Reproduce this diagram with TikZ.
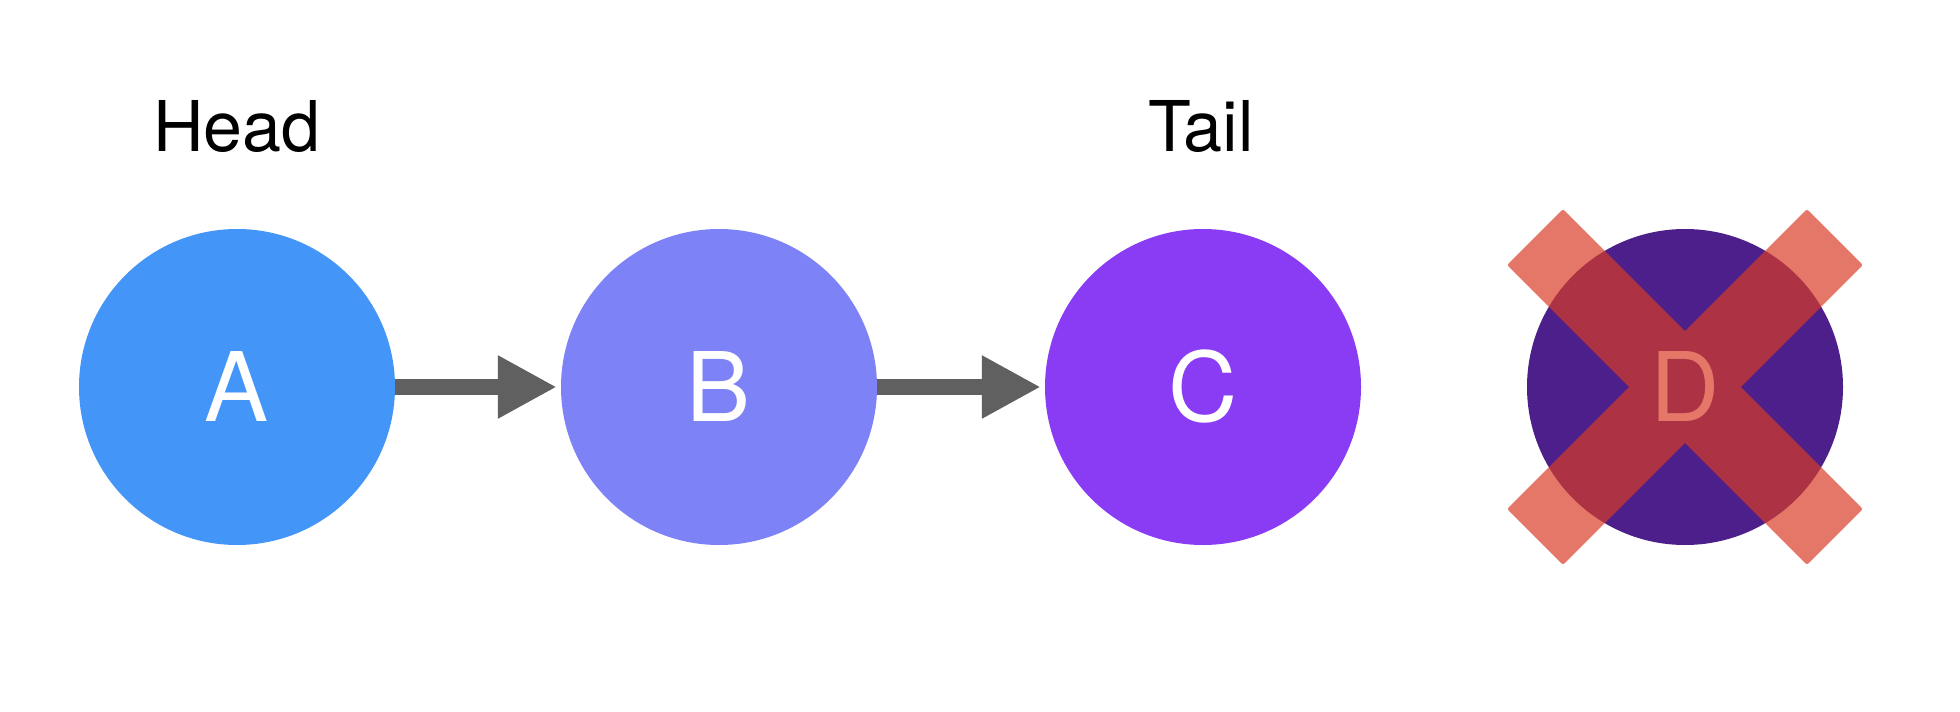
\documentclass[tikz,border=0pt]{standalone}
\usepackage{fontspec}
\setmainfont{TeX Gyre Heros}
\usetikzlibrary{arrows.meta}
\definecolor{cA}{HTML}{4495F8}
\definecolor{cB}{HTML}{7D82F6}
\definecolor{cC}{HTML}{8A3CF5}
\definecolor{cD}{HTML}{4C1F8A}
\definecolor{arrgray}{HTML}{606060}
\definecolor{xred}{HTML}{D93B24}
\tikzset{
  listnode/.style={circle, minimum size=316pt, inner sep=0pt, text=white, font=\fontsize{96}{100}\selectfont},
  lab/.style={anchor=base, inner sep=0pt, font=\fontsize{70}{74}\selectfont},
  arr/.style={draw=arrgray, line width=15.5pt, shorten >=4pt, -{Triangle[length=59pt, width=59pt]}},
  cross/.style={fill=xred, fill opacity=0.69, rounded corners=2pt}
}
\begin{document}
\begin{tikzpicture}[x=1pt, y=-1pt]
\useasboundingbox[fill=white] (0,0) rectangle (1960,712);
\node[listnode, fill=cA] (A) at (237,387) {A};
\node[listnode, fill=cB] (B) at (719,387) {B};
\node[listnode, fill=cC] (C) at (1203,387) {C};
\node[listnode, fill=cD] (D) at (1685,387) {D};
\node[lab] (head) at (237,151) {Head};
\node[lab] (tail) at (1201,151) {Tail};
\draw[arr] (A) -- (B);
\draw[arr] (B) -- (C);
\begin{scope}[shift={(D.center)}, rotate=45]
  \fill[cross] (-212,-39.5) rectangle (212,39.5) (-39.5,-212) rectangle (39.5,212);
\end{scope}
\end{tikzpicture}
\end{document}
